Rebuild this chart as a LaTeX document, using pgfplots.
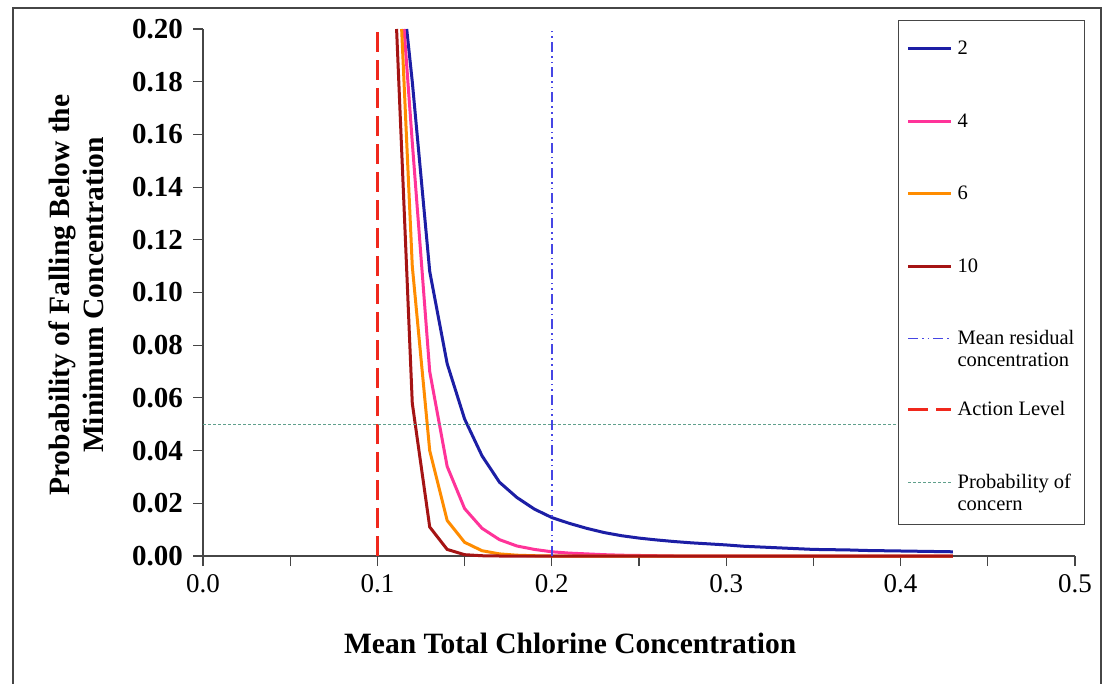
\documentclass[border=0pt]{standalone}
\usepackage{fontspec}
\setmainfont{Liberation Serif}
\usepackage{amsmath}
\usepackage{pgfplots}
\pgfplotsset{compat=1.18}
\definecolor{cblue}{RGB}{28,30,165}
\definecolor{cpink}{RGB}{255,51,153}
\definecolor{corange}{RGB}{255,140,0}
\definecolor{cdred}{RGB}{165,20,20}
\definecolor{cmean}{RGB}{70,70,228}
\definecolor{caction}{RGB}{240,40,28}
\definecolor{cconc}{RGB}{96,160,140}
\definecolor{caxis}{RGB}{70,70,70}

\pgfplotstableread{
x y
0.1168 0.200
0.12 0.180
0.13 0.108
0.14 0.073
0.15 0.052
0.16 0.038
0.17 0.028
0.18 0.0222
0.19 0.0178
0.20 0.0146
0.21 0.0124
0.22 0.0105
0.23 0.0089
0.24 0.0077
0.25 0.0068
0.26 0.0061
0.27 0.0055
0.28 0.0050
0.29 0.0046
0.30 0.0042
0.31 0.0037
0.32 0.0034
0.33 0.0031
0.34 0.0028
0.35 0.0025
0.36 0.0024
0.37 0.0023
0.38 0.0021
0.39 0.0020
0.40 0.0019
0.41 0.0018
0.42 0.0017
0.43 0.0016
}\tabA

\pgfplotstableread{
x y
0.1153 0.200
0.12 0.157
0.13 0.070
0.14 0.034
0.15 0.018
0.16 0.0105
0.17 0.0062
0.18 0.0038
0.19 0.0025
0.20 0.0016
0.21 0.0011
0.22 0.0008
0.23 0.0005
0.24 0.0003
0.25 0.0002
0.26 0.0001
0.27 0.0
0.43 0.0
}\tabB

\pgfplotstableread{
x y
0.1139 0.200
0.12 0.110
0.13 0.040
0.14 0.0135
0.15 0.0052
0.16 0.0020
0.17 0.0008
0.18 0.0003
0.19 0.0001
0.20 0.0
0.43 0.0
}\tabC

\pgfplotstableread{
x y
0.111 0.200
0.12 0.058
0.13 0.0110
0.14 0.0025
0.15 0.0005
0.16 0.0001
0.17 0.0
0.43 0.0
}\tabD

\begin{document}
\begin{tikzpicture}
\useasboundingbox (0,0) rectangle (1110pt,683pt);
\fill[white] (0,0) rectangle (1110pt,683pt);
\draw[caxis, line width=1.3pt] (13pt,-5pt) -- (13pt,675pt) -- (1101pt,675pt) -- (1101pt,-5pt);
\begin{axis}[
  at={(203pt,127pt)}, anchor=south west,
  scale only axis, width=872pt, height=527pt,
  xmin=0, xmax=0.5, ymin=0, ymax=0.2,
  clip=false,
  axis lines*=left,
  axis line style={caxis, line width=1.3pt},
  xtick={0,0.1,0.2,0.3,0.4,0.5},
  minor xtick={0.05,0.15,0.25,0.35,0.45},
  ytick={0,0.02,0.04,0.06,0.08,0.10,0.12,0.14,0.16,0.18,0.20},
  tick align=outside,
  major tick length=10pt, minor tick length=10pt,
  tick style={caxis, line width=1.1pt},
  /pgf/number format/assume math mode=true,
  xticklabel style={/pgf/number format/.cd, fixed, fixed zerofill, precision=1, /tikz/.cd,
     font=\fontsize{27}{29}\selectfont, inner sep=0pt, anchor=north, yshift=-8pt},
  yticklabel style={/pgf/number format/.cd, fixed, fixed zerofill, precision=2, /tikz/.cd,
     font=\bfseries\fontsize{29}{31}\selectfont, inner sep=0pt, anchor=east, xshift=-10pt},
  xlabel={Mean Total Chlorine Concentration},
  xlabel style={at={(axis description cs:0.421,-0.165)}, anchor=center,
     font=\bfseries\fontsize{29.5}{34}\selectfont},
  ylabel={Probability of Falling Below the\\Minimum Concentration},
  ylabel style={at={(axis description cs:-0.1456,0.495)}, anchor=center, align=center,
     font=\bfseries\fontsize{29.5}{34}\selectfont},
  legend cell align=left,
  legend style={at={(axis description cs:0.797,1.017)}, anchor=north west,
     draw=caxis, line width=1.3pt, fill=white,
     inner xsep=8pt, inner ysep=18pt, row sep=53pt, column sep=3pt,
     font=\fontsize{20.5}{22}\selectfont,
     cells={anchor=base west, inner ysep=0pt, inner xsep=1pt, text height=14pt}},
  legend image code/.code={\draw[#1] (0pt,6pt) -- (43pt,6pt);},
]
\addplot[cblue, line width=3pt] table {\tabA};
\addlegendentry{2}
\addplot[cpink, line width=3pt] table {\tabB};
\addlegendentry{4}
\addplot[corange, line width=3pt] table {\tabC};
\addlegendentry{6}
\addplot[cdred, line width=3pt] table {\tabD};
\addlegendentry{10}
\addplot[cmean, line width=1.6pt, dash pattern=on 10pt off 4pt on 1.6pt off 4pt on 1.6pt off 4pt] coordinates {(0.2,0) (0.2,0.2)};
\addlegendentry[text depth=0pt]{\begin{tabular}[t]{@{}l@{}}Mean residual\\concentration\end{tabular}}
\addplot[caction, line width=3pt, dash pattern=on 20pt off 8pt] coordinates {(0.1,0) (0.1,0.2)};
\addlegendentry{Action Level}
\addplot[cconc, line width=1.3pt, dash pattern=on 3pt off 2pt] coordinates {(0,0.05) (0.5,0.05)};
\addlegendentry[text depth=16pt]{\begin{tabular}[t]{@{}l@{}}Probability of\\concern\end{tabular}}
\end{axis}
\end{tikzpicture}
\end{document}
